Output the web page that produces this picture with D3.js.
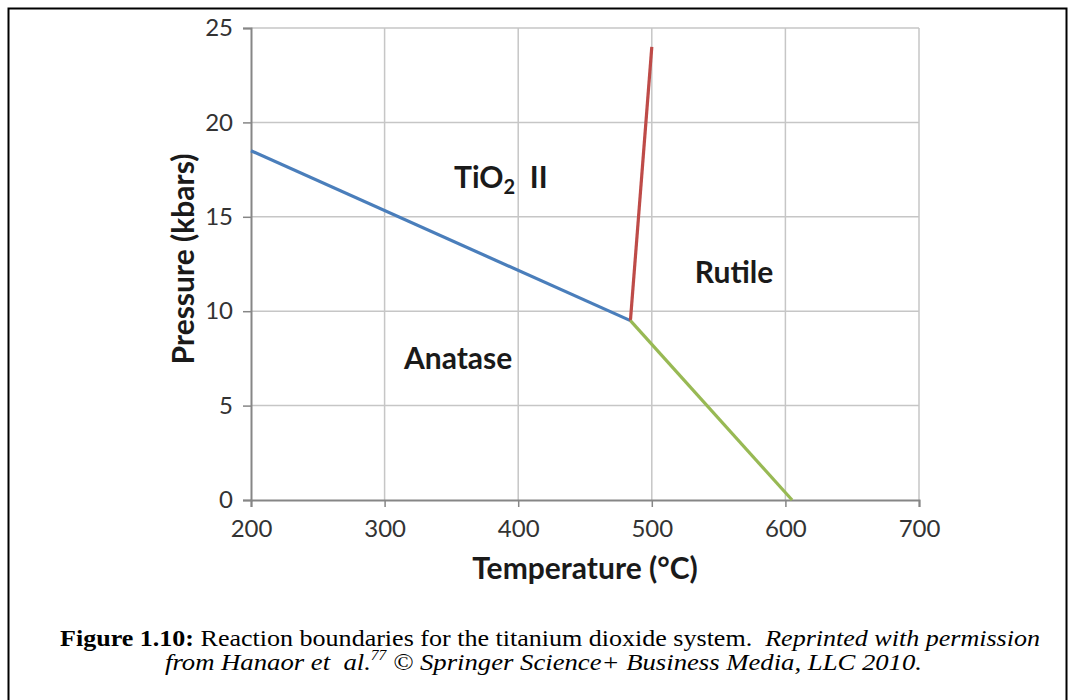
<!DOCTYPE html>
<html>
<head>
<meta charset="utf-8">
<script src="https://cdn.jsdelivr.net/npm/d3@7"></script>
<style>
  html, body { margin: 0; padding: 0; background: #fff; }
  svg { display: block; }
</style>
</head>
<body>
<svg id="chart" width="1075" height="700"></svg>
<script>
// ---- Data ----
const xTicks = [200, 300, 400, 500, 600, 700];
const yTicks = [0, 5, 10, 15, 20, 25];

// Phase boundaries (Temperature °C, Pressure kbars)
const anataseTiO2II_T = [200, 484];
const anataseTiO2II_P = [18.5, 9.5];
const tiO2IIRutile_T = [484, 500];
const tiO2IIRutile_P = [9.5, 24];
const anataseRutile_T = [484, 605];
const anataseRutile_P = [9.5, 0];

const regionNames = ["TiO2 II", "Rutile", "Anatase"];
const regionT = [387, 561.5, 355];
const regionP = [16.5, 11.5, 6.95];

const xTitle = "Temperature (°C)";
const yTitle = "Pressure (kbars)";

(function () {
// ---- Layout ----
const svg = d3.select("#chart");
const pLeft = 251, pRight = 919, pTop = 28, pBottom = 500;
const x = d3.scaleLinear().domain([200, 700]).range([pLeft, pRight]);
const y = d3.scaleLinear().domain([0, 25]).range([pBottom, pTop]);

// outer frame
svg.append("rect")
  .attr("x", 8.5).attr("y", 8.5)
  .attr("width", 1058).attr("height", 720)
  .attr("fill", "none").attr("stroke", "#000").attr("stroke-width", 2);

// gridlines
const grid = svg.append("g");
grid.selectAll("line.v").data(xTicks.slice(1)).join("line")
  .attr("x1", d => x(d)).attr("x2", d => x(d))
  .attr("y1", pTop).attr("y2", pBottom)
  .attr("stroke", "#c6c6c6").attr("stroke-width", 1.5);
grid.selectAll("line.h").data(yTicks.slice(1)).join("line")
  .attr("x1", pLeft).attr("x2", pRight)
  .attr("y1", d => y(d)).attr("y2", d => y(d))
  .attr("stroke", "#c6c6c6").attr("stroke-width", 1.5);

// axes
const axisColor = "#868686";
const xAxis = svg.append("g").attr("transform", `translate(0,${pBottom})`)
  .call(d3.axisBottom(x).tickValues(xTicks).tickSize(7).tickPadding(13).tickFormat(d3.format("d")));
const yAxis = svg.append("g").attr("transform", `translate(${pLeft},0)`)
  .call(d3.axisLeft(y).tickValues(yTicks).tickSize(8).tickPadding(10).tickFormat(d3.format("d")));
[xAxis, yAxis].forEach(a => {
  a.select(".domain").attr("stroke", axisColor).attr("stroke-width", 2);
  a.selectAll(".tick line").attr("stroke", axisColor).attr("stroke-width", 1.5);
  a.selectAll(".tick text")
    .attr("fill", "#333")
    .style("font-family", "Lato, 'Open Sans', sans-serif")
    .style("font-size", "24px");
});

// boundary lines
const line = d3.line().x(d => x(d[0])).y(d => y(d[1]));
const series = [
  { T: anataseTiO2II_T, P: anataseTiO2II_P, color: "#4a7ebb" },
  { T: tiO2IIRutile_T, P: tiO2IIRutile_P, color: "#be4b48" },
  { T: anataseRutile_T, P: anataseRutile_P, color: "#98b954" }
];
svg.append("g").selectAll("path").data(series).join("path")
  .attr("d", s => line(s.T.map((t, i) => [t, s.P[i]])))
  .attr("fill", "none")
  .attr("stroke", s => s.color)
  .attr("stroke-width", 3.2)
  .attr("stroke-linecap", "butt");

// region labels
const labelFont = "Lato, 'Open Sans', sans-serif";
regionNames.forEach((name, i) => {
  const t = svg.append("text")
    .attr("x", x(regionT[i])).attr("y", y(regionP[i]))
    .attr("text-anchor", "middle")
    .style("font-family", labelFont).style("font-weight", "bold")
    .style("font-size", "30px").attr("fill", "#1a1a1a");
  if (name === "TiO2 II") {
    t.append("tspan").text("TiO");
    t.append("tspan").text("2").attr("dy", 6).style("font-size", "20px");
    t.append("tspan").text("\u00a0\u00a0II").attr("dy", -6);
  } else {
    t.text(name);
  }
});

// axis titles
svg.append("text")
  .attr("x", (pLeft + pRight) / 2).attr("y", 579)
  .attr("text-anchor", "middle")
  .style("font-family", labelFont).style("font-weight", "bold")
  .style("font-size", "30px").attr("fill", "#1a1a1a")
  .text(xTitle);
svg.append("text")
  .attr("transform", `translate(194,259) rotate(-90)`)
  .attr("text-anchor", "middle")
  .style("font-family", labelFont).style("font-weight", "bold")
  .style("font-size", "30px").attr("fill", "#1a1a1a")
  .text(yTitle);

// caption
const serif = "'Liberation Serif', 'Times New Roman', serif";
const c1 = svg.append("text").attr("x", 60).attr("y", 646)
  .attr("textLength", 980).attr("lengthAdjust", "spacingAndGlyphs")
  .style("font-family", serif).style("font-size", "24px").attr("fill", "#000");
c1.append("tspan").style("font-weight", "bold").text("Figure 1.10:");
c1.append("tspan").text(" Reaction boundaries for the titanium dioxide system.\u00a0\u00a0");
c1.append("tspan").style("font-style", "italic").text("Reprinted with permission");

const c2 = svg.append("text").attr("x", 165).attr("y", 670)
  .attr("textLength", 757).attr("lengthAdjust", "spacingAndGlyphs")
  .style("font-family", serif).style("font-size", "24px").style("font-style", "italic").attr("fill", "#000");
c2.append("tspan").text("from Hanaor et \u00a0al.");
c2.append("tspan").text("77").attr("dy", -10).style("font-size", "14px");
c2.append("tspan").text(" \u00a9 Springer Science+ Business Media, LLC 2010.").attr("dy", 10);
})();
</script>
</body>
</html>
